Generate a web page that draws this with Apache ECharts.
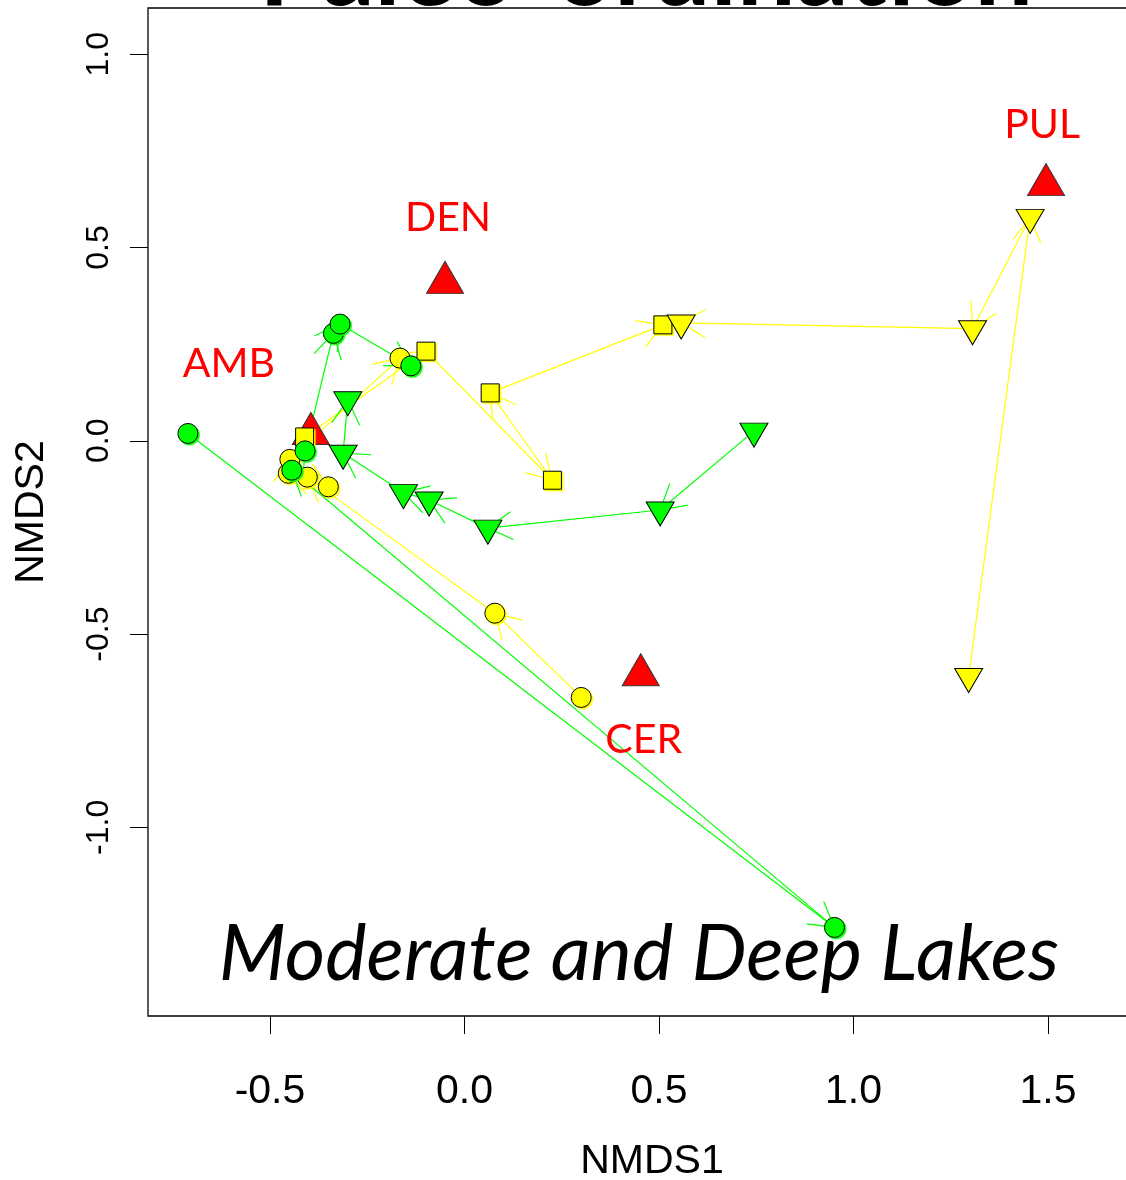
<!DOCTYPE html>
<html>
<head>
<meta charset="utf-8">
<title>Paleo-ordination</title>
<script src="https://cdn.jsdelivr.net/npm/echarts@6/dist/echarts.min.js"></script>
<style>
  html, body { margin: 0; padding: 0; background: #ffffff; }
  #chart { width: 1126px; height: 1180px; }
</style>
</head>
<body>
<div id="chart"></div>
<script>
// ---- NMDS scores (NMDS1, NMDS2); each trajectory listed oldest sample first ----
const greenCircles   = [[-0.711, 0.019], [0.951, -1.259], [-0.444, -0.076], [-0.410, -0.026],
                        [-0.337, 0.278], [-0.320, 0.302], [-0.138, 0.194]];
const greenTriangles = [[0.744, 0.025], [0.503, -0.179], [0.060, -0.226], [-0.091, -0.153],
                        [-0.157, -0.134], [-0.312, -0.032], [-0.300, 0.106]];
const yellowCircles  = [[0.300, -0.664], [0.078, -0.446], [-0.404, -0.094], [-0.350, -0.119],
                        [-0.453, -0.084], [-0.449, -0.048], [-0.166, 0.214]];
const yellowSquares  = [[-0.411, 0.010], [-0.099, 0.232], [0.226, -0.102], [0.066, 0.124],
                        [0.510, 0.300]];
const yellowTriangles = [[1.296, -0.610], [1.454, 0.578], [1.306, 0.290], [0.557, 0.305]];

// present-day lake positions
const lakeNames  = ['AMB', 'DEN', 'PUL', 'CER'];
const lakeScores = [[-0.395, 0.018], [-0.050, 0.409], [1.495, 0.662], [0.453, -0.606]];

// axis ticks
const xTicks = [-0.5, 0.0, 0.5, 1.0, 1.5];
const yTicks = [-1.0, -0.5, 0.0, 0.5, 1.0];

// ---- styling ----
const GREEN = '#00ff00', YELLOW = '#ffff00', RED = '#ff0000';
const AXIS_FONT = 'Liberation Sans, Arial, sans-serif';
const NOTE_FONT = 'Lato, "Open Sans", sans-serif';
const lakeLabelOffset = { AMB: [-82, -65], DEN: [3, -60], PUL: [-4, -55], CER: [3, 70] };

// consecutive samples joined by an arrow pointing to the younger one
function toSegments(path) {
  const segs = [];
  for (let i = 1; i < path.length; i++) {
    segs.push([path[i - 1][0], path[i - 1][1], path[i][0], path[i][1]]);
  }
  return segs;
}

// open arrowhead (two strokes, 30 degrees) like base-R arrows()
function arrowRenderer(color) {
  return function (params, api) {
    const a = api.coord([api.value(0), api.value(1)]);
    const b = api.coord([api.value(2), api.value(3)]);
    const ang = Math.atan2(a[1] - b[1], a[0] - b[0]);
    const L = 28, th = Math.PI / 6;
    const h1 = [b[0] + L * Math.cos(ang + th), b[1] + L * Math.sin(ang + th)];
    const h2 = [b[0] + L * Math.cos(ang - th), b[1] + L * Math.sin(ang - th)];
    return {
      type: 'group',
      children: [
        { type: 'line', shape: { x1: a[0], y1: a[1], x2: b[0], y2: b[1] },
          style: { stroke: color, lineWidth: 1.2 } },
        { type: 'polyline', shape: { points: [h1, b, h2] },
          style: { stroke: color, fill: null, lineWidth: 1.2 } }
      ]
    };
  };
}

function arrowSeries(path, color) {
  return {
    type: 'custom',
    renderItem: arrowRenderer(color),
    data: toSegments(path),
    encode: { x: [0, 2], y: [1, 3] },
    clip: false,
    silent: true
  };
}

function markerStyle(color) {
  return {
    color: color,
    opacity: 1,
    borderColor: '#000',
    borderWidth: 1,
    shadowColor: color,
    shadowBlur: 1,
    shadowOffsetX: 1.5,
    shadowOffsetY: 1.5
  };
}

function circleSeries(path, color) {
  return { type: 'scatter', data: path, symbol: 'circle', symbolSize: 20,
           itemStyle: markerStyle(color), clip: false, silent: true };
}
function squareSeries(path, color) {
  return { type: 'scatter', data: path, symbol: 'rect', symbolSize: 18,
           itemStyle: markerStyle(color), clip: false, silent: true };
}
// downward triangle, centred on its centroid
function downTriangleSeries(path, color) {
  return { type: 'scatter', data: path, symbol: 'triangle', symbolSize: [28, 24],
           symbolRotate: 180, symbolOffset: [0, 4],
           itemStyle: { color: color, opacity: 1, borderColor: '#000', borderWidth: 1 },
           clip: false, silent: true };
}

const lakeData = lakeNames.map((n, i) => ({
  name: n,
  value: lakeScores[i],
  label: { offset: lakeLabelOffset[n] }
}));

const option = {
  animation: false,
  backgroundColor: '#ffffff',
  grid: {
    left: 148, top: 8, width: 1008, height: 1008,
    containLabel: false, outerBoundsMode: 'none',
    show: true, borderColor: '#000', borderWidth: 1.3, backgroundColor: 'transparent'
  },
  xAxis: {
    type: 'value', min: -0.8136, max: 1.7776,
    name: 'NMDS1', nameLocation: 'middle', nameGap: 125,
    nameTextStyle: { fontFamily: AXIS_FONT, fontSize: 41, color: '#000' },
    axisLine: { show: false, onZero: false },
    splitLine: { show: false },
    axisTick: { show: true, inside: false, length: 18, customValues: xTicks,
                lineStyle: { color: '#000', width: 1 } },
    axisLabel: { customValues: xTicks, margin: 55, fontFamily: AXIS_FONT, fontSize: 41,
                 color: '#000', formatter: v => v.toFixed(1) }
  },
  yAxis: {
    type: 'value', min: -1.4882, max: 1.1198,
    name: 'NMDS2', nameLocation: 'middle', nameGap: 96,
    nameTextStyle: { fontFamily: AXIS_FONT, fontSize: 41, color: '#000' },
    axisLine: { show: false, onZero: false },
    splitLine: { show: false },
    axisTick: { show: true, inside: false, length: 18, customValues: yTicks,
                lineStyle: { color: '#000', width: 1 } },
    axisLabel: { customValues: yTicks, rotate: 90, margin: 33, fontFamily: AXIS_FONT,
                 fontSize: 32, color: '#000', formatter: v => v.toFixed(1) }
  },
  graphic: [
    { type: 'text', x: 646, y: -29, silent: true,
      style: { text: 'Paleo-ordination', fill: '#000', align: 'center', textAlign: 'center',
               verticalAlign: 'middle', textVerticalAlign: 'middle',
               font: 'bold 104px ' + NOTE_FONT } },
    { type: 'text', x: 639, y: 955, silent: true,
      style: { text: 'Moderate and Deep Lakes', fill: '#000', align: 'center', textAlign: 'center',
               verticalAlign: 'middle', textVerticalAlign: 'middle',
               font: 'italic 78px ' + NOTE_FONT } }
  ],
  series: [
    // present-day lakes
    { type: 'scatter', data: lakeData, symbol: 'triangle', symbolSize: [37, 32],
      symbolOffset: [0, -32 / 6],
      itemStyle: { color: RED, opacity: 1, borderColor: '#333', borderWidth: 1 },
      label: { show: true, position: 'inside', formatter: p => p.name,
               fontFamily: NOTE_FONT, fontSize: 41, color: RED },
      clip: false, silent: true },
    // moderate-depth lakes
    arrowSeries(yellowSquares, YELLOW),
    squareSeries(yellowSquares, YELLOW),
    arrowSeries(yellowCircles, YELLOW),
    circleSeries(yellowCircles, YELLOW),
    arrowSeries(yellowTriangles, YELLOW),
    downTriangleSeries(yellowTriangles, YELLOW),
    // deep lakes
    arrowSeries(greenTriangles, GREEN),
    downTriangleSeries(greenTriangles, GREEN),
    arrowSeries(greenCircles, GREEN),
    circleSeries(greenCircles, GREEN)
  ]
};

const chart = echarts.init(document.getElementById('chart'), null, { renderer: 'canvas' });
chart.setOption(option);
</script>
</body>
</html>
